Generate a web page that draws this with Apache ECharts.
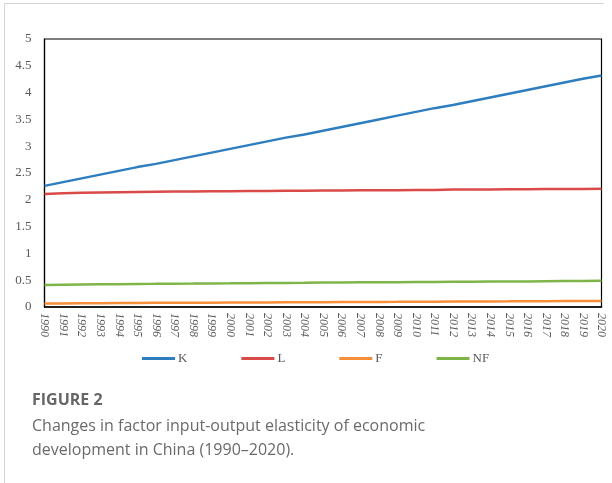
<!DOCTYPE html>
<html>
<head>
<meta charset="utf-8">
<script src="https://cdn.jsdelivr.net/npm/echarts@6/dist/echarts.min.js"></script>
<style>html,body{margin:0;padding:0;background:#fff;}#c{width:612px;height:483px;}</style>
</head>
<body>
<div id="c"></div>
<script>
const years = ['1990','1991','1992','1993','1994','1995','1996','1997','1998','1999','2000','2001','2002','2003','2004','2005','2006','2007','2008','2009','2010','2011','2012','2013','2014','2015','2016','2017','2018','2019','2020'];
const K  = [2.26,2.33,2.40,2.47,2.54,2.61,2.67,2.74,2.81,2.88,2.95,3.02,3.09,3.16,3.22,3.29,3.36,3.43,3.50,3.57,3.64,3.71,3.77,3.84,3.91,3.98,4.05,4.12,4.19,4.26,4.32];
const L  = [2.11,2.12,2.13,2.135,2.14,2.145,2.15,2.155,2.155,2.16,2.16,2.165,2.165,2.17,2.17,2.175,2.175,2.18,2.18,2.18,2.185,2.185,2.19,2.19,2.19,2.195,2.195,2.20,2.20,2.20,2.205];
const F  = [0.065,0.067,0.069,0.071,0.073,0.075,0.077,0.078,0.080,0.081,0.083,0.084,0.086,0.087,0.089,0.090,0.092,0.093,0.095,0.096,0.098,0.099,0.101,0.102,0.104,0.105,0.107,0.108,0.110,0.111,0.113];
const NF = [0.41,0.415,0.42,0.423,0.426,0.43,0.432,0.435,0.437,0.44,0.442,0.445,0.447,0.45,0.452,0.455,0.457,0.46,0.462,0.464,0.466,0.468,0.47,0.472,0.474,0.476,0.478,0.48,0.483,0.486,0.489];
const yTicks = ['0','0.5','1','1.5','2','2.5','3','3.5','4','4.5','5'];
const seriesNames = ['K','L','F','NF'];
const colors = ['#2e7ebf','#d94a49','#f78f3a','#7fb548'];

const chart = echarts.init(document.getElementById('c'), null, {renderer:'canvas'});
const mk = (name, data, color) => ({
  name, type:'line', data, showSymbol:false, symbol:'none', smooth:false,
  lineStyle:{color, width:2.5}, itemStyle:{color}
});
chart.setOption({
  animation:false,
  backgroundColor:'#fff',
  grid:{left:44.5, right:10.5, top:39, bottom:176, show:true, borderColor:'#000', borderWidth:1.2},
  xAxis:{type:'category', data:years, boundaryGap:false,
    axisLine:{lineStyle:{color:'#000', width:1.5}}, axisTick:{show:false},
    axisLabel:{rotate:-90, interval:0, color:'#595959', fontFamily:'Liberation Serif', fontStyle:'italic', fontSize:12, margin:6}},
  yAxis:{type:'value', min:0, max:5, interval:0.5,
    axisLine:{show:true, lineStyle:{color:'#000', width:1.2}}, axisTick:{show:false}, splitLine:{show:false},
    axisLabel:{color:'#595959', fontFamily:'Liberation Serif', fontSize:13, margin:13,
      formatter:(v)=>{const i=Math.round(v/0.5);return yTicks[i]!==undefined?yTicks[i]:v;}}},
  legend:{data:seriesNames, top:347, left:137, icon:'rect', itemWidth:33, itemHeight:3, itemGap:54,
    textStyle:{color:'#595959', fontFamily:'Liberation Serif', fontSize:13, padding:[0,0,0,-2]}},
  series:[mk('K',K,colors[0]), mk('L',L,colors[1]), mk('F',F,colors[2]), mk('NF',NF,colors[3])],
  graphic:[
    {type:'line', shape:{x1:4.5,y1:3.5,x2:604,y2:3.5}, style:{stroke:'#d4d4d4', lineWidth:1}},
    {type:'line', shape:{x1:4.5,y1:3.5,x2:4.5,y2:483}, style:{stroke:'#d4d4d4', lineWidth:1}},
    {type:'text', left:32, top:392, style:{text:'FIGURE 2', font:'bold 16px "Open Sans"', fill:'#666'}},
    {type:'text', left:32, top:414, style:{text:'Changes in factor input-output elasticity of economic\ndevelopment in China (1990\u20132020).', font:'16px "Open Sans"', fill:'#6a6a6a', lineHeight:24}}
  ]
});
</script>
</body>
</html>
